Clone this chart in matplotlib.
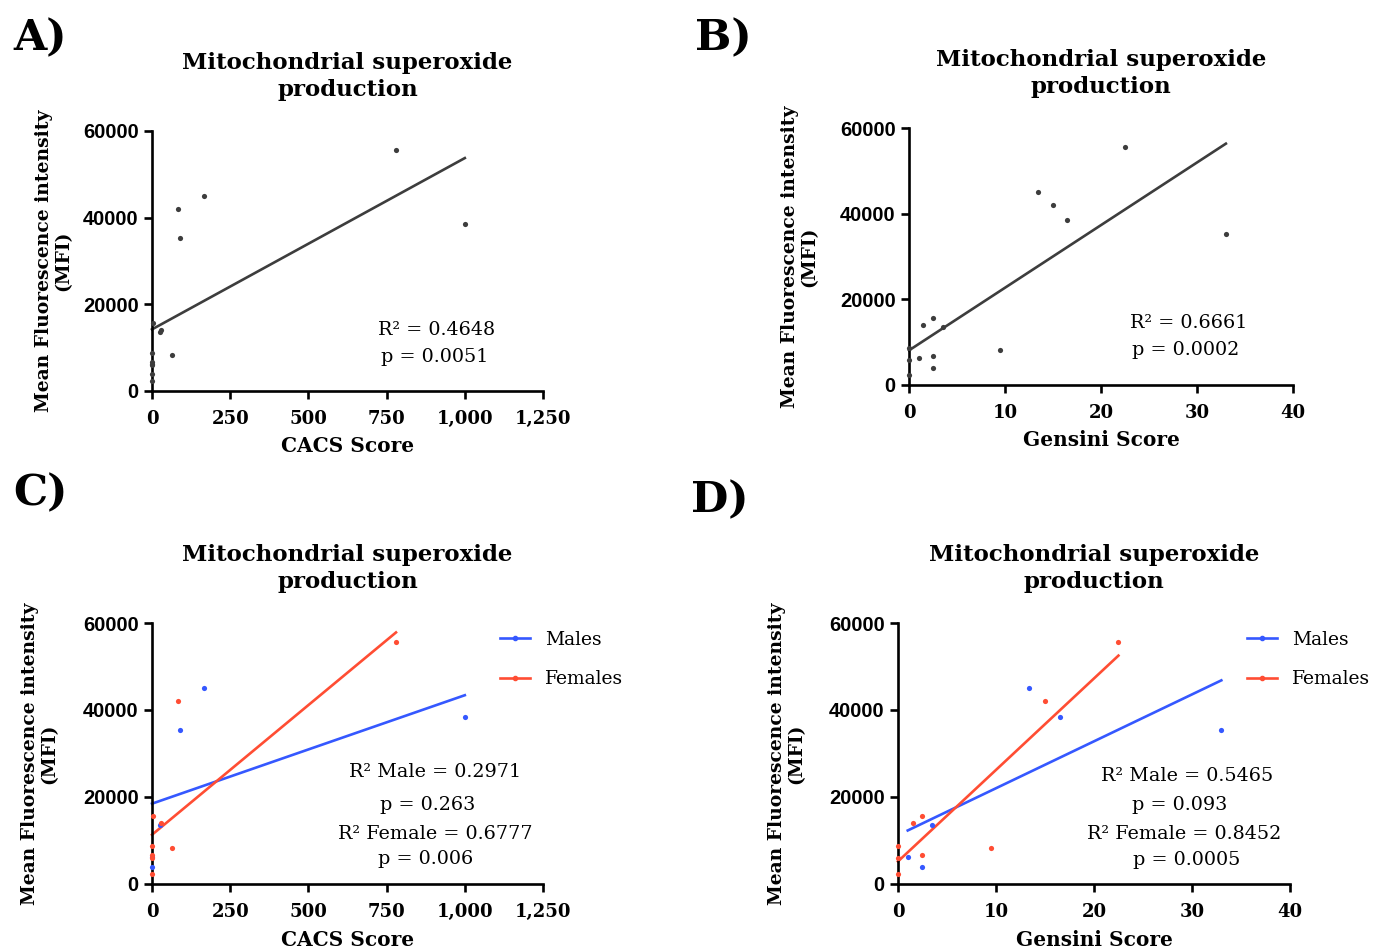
import numpy as np
import matplotlib
matplotlib.use("Agg")
import matplotlib.pyplot as plt
from matplotlib.lines import Line2D
from matplotlib.ticker import FuncFormatter

# one row per subject
mfi = [55600, 45000, 42000, 38500, 35300, 8200, 15600, 13600, 14100,
       8700, 6700, 6300, 5900, 4000, 2300]
cacs = [780, 166, 83, 1000, 90, 64, 4, 25, 30, 0, 0, 0, 0, 0, 0]
gensini = [22.5, 13.4, 15.0, 16.5, 33.0, 9.5, 2.5, 3.5, 1.5, 0, 2.5, 1.0, 0, 2.5, 0]
sex = ["F", "M", "F", "M", "M", "F", "F", "M", "F", "F", "F", "M", "F", "M", "F"]

y_ticks = [0, 20000, 40000, 60000]
cacs_ticks = [0, 250, 500, 750, 1000, 1250]
gensini_ticks = [0, 10, 20, 30, 40]

stats_a = ["R² = 0.4648", "p = 0.0051"]
stats_b = ["R² = 0.6661", "p = 0.0002"]
stats_c = ["R² Male = 0.2971", "p = 0.263", "R² Female = 0.6777", "p = 0.006"]
stats_d = ["R² Male = 0.5465", "p = 0.093", "R² Female = 0.8452", "p = 0.0005"]

GREY = "#3d3d3d"
BLUE = "#3558ff"
RED = "#ff4d33"
SERIF = "DejaVu Serif"

mfi = np.array(mfi)
cacs = np.array(cacs, dtype=float)
gensini = np.array(gensini)
sex = np.array(sex)

fig = plt.figure(figsize=(13.73, 9.51), dpi=100)


def fit_line(ax, x, y, color):
    k, b = np.polyfit(x, y, 1)
    xs = np.array([x.min(), x.max()])
    ax.plot(xs, k * xs + b, color=color, lw=1.9, clip_on=False, zorder=2)


def style(ax, xticks, xlabel):
    for s in ["top", "right"]:
        ax.spines[s].set_visible(False)
    for s in ["left", "bottom"]:
        ax.spines[s].set_linewidth(1.9)
    ax.set_xlim(xticks[0], xticks[-1])
    ax.set_ylim(0, 60000)
    ax.set_xticks(xticks)
    ax.set_yticks(y_ticks)
    ax.xaxis.set_major_formatter(FuncFormatter(lambda v, p: f"{int(v):,}"))
    ax.tick_params(direction="out", length=6, width=1.9)
    ax.tick_params(axis="x", pad=8)
    for t in ax.get_xticklabels():
        t.set_fontfamily(SERIF)
        t.set_fontweight("bold")
        t.set_fontsize(13)
    for t in ax.get_yticklabels():
        t.set_fontfamily("Liberation Sans")
        t.set_fontweight("bold")
        t.set_fontsize(14.5)
    ax.set_title("Mitochondrial superoxide\nproduction", fontfamily=SERIF,
                 fontweight="bold", fontsize=16.5, pad=25, linespacing=1.3)
    ax.set_xlabel(xlabel, fontfamily=SERIF, fontweight="bold", fontsize=14.5)
    ax.set_ylabel("Mean Fluorescence intensity\n(MFI)", fontfamily=SERIF,
                  fontweight="bold", fontsize=13.5, linespacing=1.05)
    ax.xaxis.set_label_coords(0.5, -0.175)


def stats_text(ax, lines, xs, ys, size=14):
    for s, x, y in zip(lines, xs, ys):
        ax.text(x, y, s, transform=ax.transAxes, ha="center", va="center",
                fontfamily=SERIF, fontsize=size)


def legend(ax):
    h = [Line2D([0], [0], color=BLUE, lw=1.9, marker="o", markersize=3),
         Line2D([0], [0], color=RED, lw=1.9, marker="o", markersize=3)]
    ax.legend(h, ["Males", "Females"], loc="upper left",
              bbox_to_anchor=(0.89, 0.97), frameon=False,
              prop={"family": SERIF, "size": 13.5}, handlelength=1.6,
              handletextpad=0.8, labelspacing=1.15, borderaxespad=0, borderpad=0)


# A
axA = fig.add_axes([0.1107, 0.5889, 0.2848, 0.2734])
axA.scatter(cacs, mfi, s=14, color=GREY, zorder=3, clip_on=False, lw=0)
fit_line(axA, cacs, mfi, GREY)
style(axA, cacs_ticks, "CACS Score")
axA.yaxis.set_label_coords(-0.205, 0.5)
stats_text(axA, stats_a, [0.729, 0.724], [0.235, 0.131], 13.8)

# B
axB = fig.add_axes([0.6621, 0.5952, 0.2797, 0.2702])
axB.scatter(gensini, mfi, s=14, color=GREY, zorder=3, clip_on=False, lw=0)
fit_line(axB, gensini, mfi, GREY)
style(axB, gensini_ticks, "Gensini Score")
axB.yaxis.set_label_coords(-0.237, 0.5)
stats_text(axB, stats_b, [0.727, 0.720], [0.241, 0.136], 13.8)

m = sex == "M"
f = sex == "F"

# C
axC = fig.add_axes([0.1107, 0.0705, 0.2848, 0.2744])
axC.scatter(cacs[m], mfi[m], s=14, color=BLUE, zorder=3, clip_on=False, lw=0)
axC.scatter(cacs[f], mfi[f], s=14, color=RED, zorder=3, clip_on=False, lw=0)
fit_line(axC, cacs[m], mfi[m], BLUE)
fit_line(axC, cacs[f], mfi[f], RED)
style(axC, cacs_ticks, "CACS Score")
axC.yaxis.set_label_coords(-0.24, 0.5)
stats_text(axC, stats_c, [0.724, 0.705, 0.724, 0.700], [0.429, 0.303, 0.192, 0.096], 13.8)
legend(axC)

# D
axD = fig.add_axes([0.6540, 0.0705, 0.2855, 0.2744])
axD.scatter(gensini[m], mfi[m], s=14, color=BLUE, zorder=3, clip_on=False, lw=0)
axD.scatter(gensini[f], mfi[f], s=14, color=RED, zorder=3, clip_on=False, lw=0)
fit_line(axD, gensini[m], mfi[m], BLUE)
fit_line(axD, gensini[f], mfi[f], RED)
style(axD, gensini_ticks, "Gensini Score")
axD.yaxis.set_label_coords(-0.237, 0.5)
stats_text(axD, stats_d, [0.737, 0.719, 0.730, 0.737], [0.414, 0.303, 0.192, 0.092], 13.8)
legend(axD)

for lab, x, y in [("A)", 13, 38), ("B)", 695, 38), ("C)", 13, 493), ("D)", 691, 500)]:
    fig.text(x / 1373, 1 - y / 951, lab, ha="left", va="center",
             fontfamily=SERIF, fontweight="bold", fontsize=31)

fig.savefig("out.png", dpi=100)
